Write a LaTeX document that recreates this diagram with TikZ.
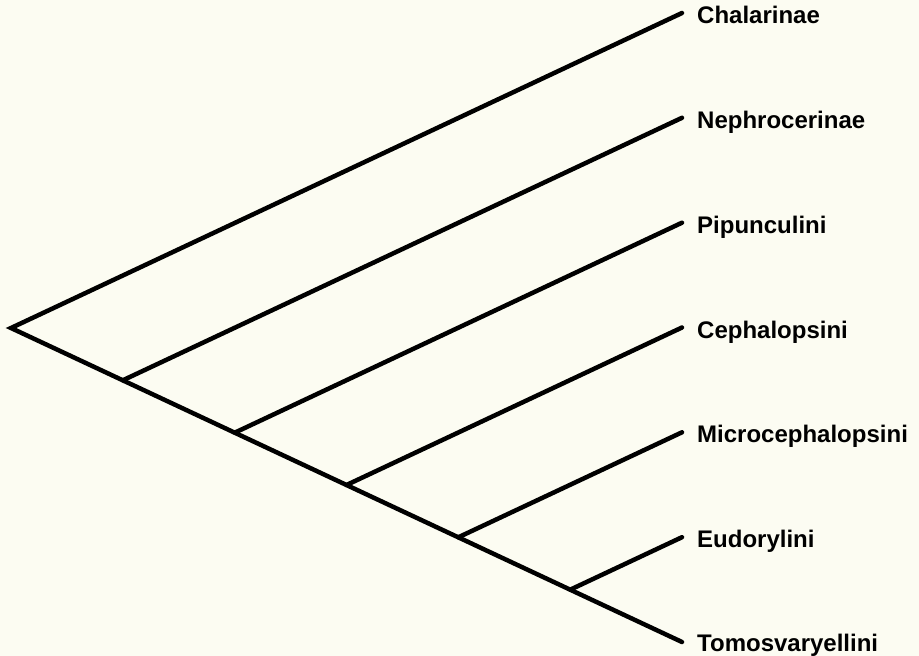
\documentclass[tikz,border=0pt]{standalone}
\usepackage{fontspec}
\setmainfont{Liberation Sans}
\definecolor{paper}{RGB}{252,252,242}
\begin{document}
\begin{tikzpicture}[x=1pt,y=-1pt,
  branch/.style={line width=4.5pt,line cap=round,line join=miter,black},
  taxon/.style={anchor=base west,inner sep=0pt,font=\fontsize{24}{29}\selectfont\bfseries}]
  % page and background
  \fill[paper] (0,0) rectangle (919,656);
  \useasboundingbox (0,0) rectangle (919,656);

  % root, internal nodes along the lower stem, and tips
  \coordinate (root) at (11,328);
  \coordinate (n1) at (122.8,380.3);
  \coordinate (n2) at (234.7,432.7);
  \coordinate (n3) at (346.5,485.0);
  \coordinate (n4) at (458.3,537.3);
  \coordinate (n5) at (570.2,589.7);
  \coordinate (t1) at (682,13.0);
  \coordinate (t2) at (682,117.8);
  \coordinate (t3) at (682,222.7);
  \coordinate (t4) at (682,327.5);
  \coordinate (t5) at (682,432.3);
  \coordinate (t6) at (682,537.2);
  \coordinate (t7) at (682,642.0);

  % branches
  \draw[branch] (t1) -- (root) -- (t7);
  \draw[branch] (n1) -- (t2);
  \draw[branch] (n2) -- (t3);
  \draw[branch] (n3) -- (t4);
  \draw[branch] (n4) -- (t5);
  \draw[branch] (n5) -- (t6);

  % taxon names
  \node[taxon] (l1) at (697,23.5)  {Chalarinae};
  \node[taxon] (l2) at (697,128.3) {Nephrocerinae};
  \node[taxon] (l3) at (697,233.2) {Pipunculini};
  \node[taxon] (l4) at (697,338.0) {Cephalopsini};
  \node[taxon] (l5) at (697,442.8) {Microcephalopsini};
  \node[taxon] (l6) at (697,547.7) {Eudorylini};
  \node[taxon] (l7) at (697,651.5) {Tomosvaryellini};
\end{tikzpicture}
\end{document}
